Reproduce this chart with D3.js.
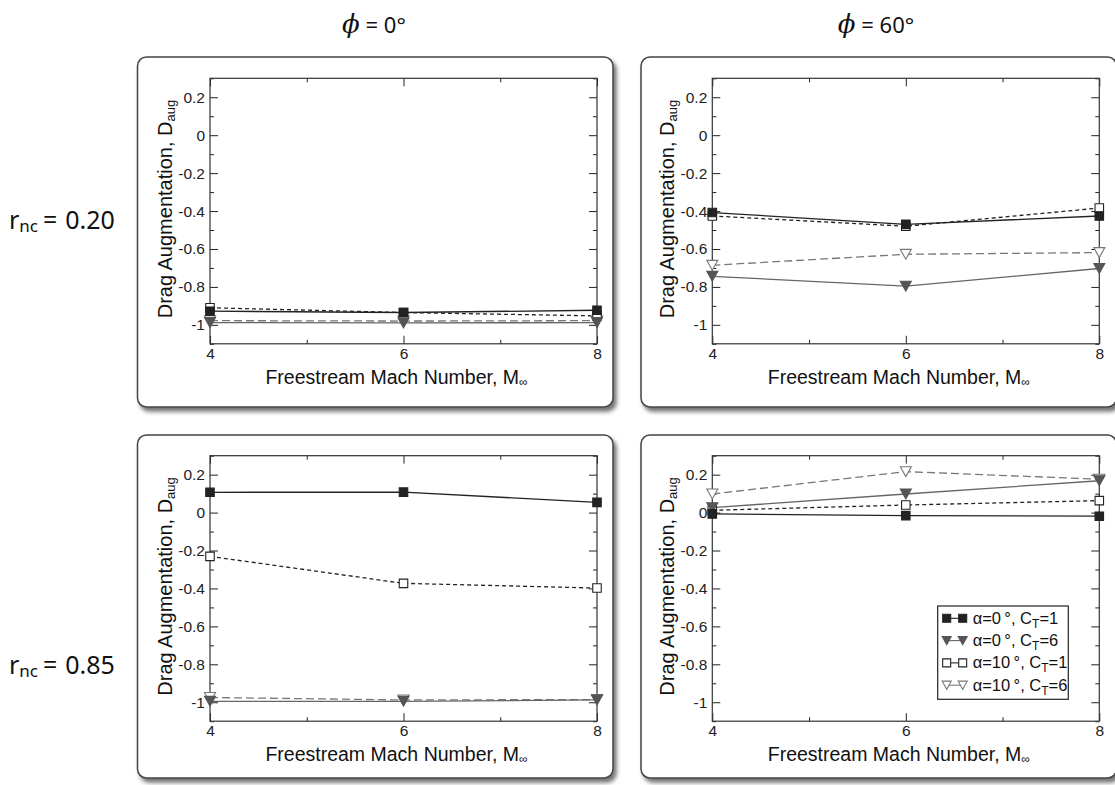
<!DOCTYPE html>
<html>
<head>
<meta charset="utf-8">
<script src="https://cdn.jsdelivr.net/npm/d3@7"></script>
<style>
  html, body { margin: 0; padding: 0; background: #fff; }
  svg { display: block; }
</style>
</head>
<body>
<svg id="chart" width="1115" height="785"></svg>
<script>
// ---------------- DATA ----------------
const machNumbers = [4, 6, 8];
const xTickValues = [4, 6, 8];
const xMinorTicks = [5, 7];
const yTickValues = [0.2, 0, -0.2, -0.4, -0.6, -0.8, -1];
const yTickLabels = ["0.2", "0", "-0.2", "-0.4", "-0.6", "-0.8", "-1"];
const yMinorTicks = [0.3, 0.1, -0.1, -0.3, -0.5, -0.7, -0.9, -1.1];
const columnHeaders = ["0°", "60°"];          // phi
const rowHeaders = ["0.20", "0.85"];          // r_nc
const seriesNames = ["α=0°, C_T=1", "α=0°, C_T=6", "α=10°, C_T=1", "α=10°, C_T=6"];

// r_nc = 0.20, phi = 0
const r020_phi0_a0_ct1  = [-0.928, -0.935, -0.923];
const r020_phi0_a0_ct6  = [-0.988, -0.990, -0.988];
const r020_phi0_a10_ct1 = [-0.910, -0.935, -0.953];
const r020_phi0_a10_ct6 = [-0.978, -0.980, -0.978];
// r_nc = 0.20, phi = 60
const r020_phi60_a0_ct1  = [-0.408, -0.470, -0.426];
const r020_phi60_a0_ct6  = [-0.744, -0.796, -0.703];
const r020_phi60_a10_ct1 = [-0.426, -0.480, -0.384];
const r020_phi60_a10_ct6 = [-0.686, -0.628, -0.619];
// r_nc = 0.85, phi = 0
const r085_phi0_a0_ct1  = [0.107, 0.108, 0.054];
const r085_phi0_a0_ct6  = [-0.995, -0.995, -0.988];
const r085_phi0_a10_ct1 = [-0.231, -0.373, -0.398];
const r085_phi0_a10_ct6 = [-0.975, -0.988, -0.986];
// r_nc = 0.85, phi = 60
const r085_phi60_a0_ct1  = [-0.007, -0.016, -0.019];
const r085_phi60_a0_ct6  = [0.026, 0.098, 0.168];
const r085_phi60_a10_ct1 = [0.012, 0.040, 0.063];
const r085_phi60_a10_ct6 = [0.098, 0.216, 0.176];

const panelData = [
  [[r020_phi0_a0_ct1, r020_phi0_a0_ct6, r020_phi0_a10_ct1, r020_phi0_a10_ct6],
   [r020_phi60_a0_ct1, r020_phi60_a0_ct6, r020_phi60_a10_ct1, r020_phi60_a10_ct6]],
  [[r085_phi0_a0_ct1, r085_phi0_a0_ct6, r085_phi0_a10_ct1, r085_phi0_a10_ct6],
   [r085_phi60_a0_ct1, r085_phi60_a0_ct6, r085_phi60_a10_ct1, r085_phi60_a10_ct6]]
];

// ---------------- STYLE ----------------
const seriesStyle = [
  { shape: "square",   fill: "#222", stroke: "#222", line: "#222", dash: null },
  { shape: "triangle", fill: "#555", stroke: "#555", line: "#666", dash: null },
  { shape: "square",   fill: "#fff", stroke: "#222", line: "#222", dash: "4,3" },
  { shape: "triangle", fill: "#fff", stroke: "#777", line: "#777", dash: "8,4" }
];

const svg = d3.select("#chart");
const defs = svg.append("defs");
const f = defs.append("filter").attr("id", "shadow")
  .attr("x", "-5%").attr("y", "-5%").attr("width", "115%").attr("height", "115%");
f.append("feDropShadow").attr("dx", 3).attr("dy", 4).attr("stdDeviation", 2.2)
  .attr("flood-color", "#000").attr("flood-opacity", 0.55);

const colPlotLeft = [210, 712.3];
const plotW = 387;
const rowPlotTop = [78.3, 455.7];
const plotH = 265.5;
const colBoxLeft = [137.5, 641];
const boxW = 475.5;
const rowBoxTop = [57, 435];
const rowBoxH = [350, 343];

const headerFont = "'Noto Sans', Lato, sans-serif";
const axisFont = "'Liberation Sans', Arial, sans-serif";

// column headers
columnHeaders.forEach((h, c) => {
  const cx = c === 0 ? 374 : 876;
  const t = svg.append("text").attr("x", cx).attr("y", 33)
    .attr("text-anchor", "middle")
    .attr("font-family", headerFont).attr("font-size", 22).attr("fill", "#111");
  t.append("tspan").attr("font-family", "'DejaVu Serif', 'Liberation Serif', serif")
    .attr("font-style", "italic").attr("font-size", 26).text("ϕ");
  t.append("tspan").text(" = " + h);
});

// row headers
rowHeaders.forEach((h, r) => {
  const cy = r === 0 ? 229 : 674;
  const t = svg.append("text").attr("x", 9).attr("y", cy)
    .attr("font-family", headerFont).attr("font-size", 25).attr("fill", "#111")
    .style("white-space", "pre");
  t.append("tspan").text("r");
  t.append("tspan").attr("font-size", 17).attr("dy", 3).text("nc");
  t.append("tspan").attr("dy", -3).attr("dx", 5).text("=");
  t.append("tspan").attr("dx", 8).text(h);
});

function markerPath(shape, size) {
  if (shape === "square") {
    const s = size / 2;
    return `M${-s},${-s}H${s}V${s}H${-s}Z`;
  }
  const w = size * 0.5, h = size * 0.45;
  return `M${-w},${-h}L${w},${-h}L0,${h}Z`;
}

for (let r = 0; r < 2; r++) {
  for (let c = 0; c < 2; c++) {
    // panel box
    svg.append("rect")
      .attr("x", colBoxLeft[c]).attr("y", rowBoxTop[r])
      .attr("width", boxW).attr("height", rowBoxH[r])
      .attr("rx", 9).attr("ry", 9)
      .attr("fill", "#fff").attr("stroke", "#444").attr("stroke-width", 1.5)
      .attr("filter", "url(#shadow)");

    const x0 = colPlotLeft[c], y0 = rowPlotTop[r];
    const g = svg.append("g").attr("transform", `translate(${x0},${y0})`);
    const x = d3.scaleLinear().domain([4, 8]).range([0, plotW]);
    const y = d3.scaleLinear().domain([-1.1, 0.3]).range([plotH, 0]);

    // axes with inward ticks
    const fmt = v => yTickLabels[yTickValues.indexOf(v)];
    const left = d3.axisLeft(y).tickValues(yTickValues).tickFormat(fmt).tickSize(-8).tickPadding(5);
    const right = d3.axisRight(y).tickValues(yTickValues).tickFormat("").tickSize(-8);
    const leftMinor = d3.axisLeft(y).tickValues(yMinorTicks).tickFormat("").tickSize(-4);
    const rightMinor = d3.axisRight(y).tickValues(yMinorTicks).tickFormat("").tickSize(-4);
    const bottom = d3.axisBottom(x).tickValues(xTickValues).tickFormat(d3.format("d")).tickSize(-8).tickPadding(4);
    const top = d3.axisTop(x).tickValues(xTickValues).tickFormat("").tickSize(-8);
    const bottomMinor = d3.axisBottom(x).tickValues(xMinorTicks).tickFormat("").tickSize(-4);
    const topMinor = d3.axisTop(x).tickValues(xMinorTicks).tickFormat("").tickSize(-4);

    const axes = [
      [left, ""], [leftMinor, ""],
      [right, `translate(${plotW},0)`], [rightMinor, `translate(${plotW},0)`],
      [bottom, `translate(0,${plotH})`], [bottomMinor, `translate(0,${plotH})`],
      [top, ""], [topMinor, ""]
    ];
    axes.forEach(([ax, tr]) => {
      const a = g.append("g").attr("transform", tr).call(ax);
      a.select(".domain").remove();
      a.selectAll("line").attr("stroke", "#222").attr("stroke-width", 1);
      a.selectAll("text").attr("font-family", axisFont).attr("font-size", 15.5).attr("fill", "#222");
    });
    g.append("rect").attr("width", plotW).attr("height", plotH)
      .attr("fill", "none").attr("stroke", "#333").attr("stroke-width", 1.2);

    // axis titles
    const xt = g.append("text").attr("x", plotW / 2 - 7).attr("y", plotH + 40)
      .attr("text-anchor", "middle").attr("font-family", axisFont)
      .attr("font-size", 19.5).attr("fill", "#111");
    xt.append("tspan").text("Freestream Mach Number, M");
    xt.append("tspan").attr("font-size", 12).attr("dy", 2).text("∞");

    const yt = g.append("text").attr("transform", `translate(-38,${plotH / 2 - 2}) rotate(-90)`)
      .attr("text-anchor", "middle").attr("font-family", axisFont)
      .attr("font-size", 20).attr("fill", "#111");
    yt.append("tspan").text("Drag Augmentation, D");
    yt.append("tspan").attr("font-size", 13).attr("dy", 3).text("aug");

    // series
    const line = d3.line().x((d, i) => x(machNumbers[i])).y(d => y(d));
    const drawOrder = [3, 2, 1, 0];
    drawOrder.forEach(s => {
      const st = seriesStyle[s];
      const vals = panelData[r][c][s];
      g.append("path").datum(vals).attr("d", line)
        .attr("fill", "none").attr("stroke", st.line).attr("stroke-width", 1.3)
        .attr("stroke-dasharray", st.dash);
    });
    drawOrder.forEach(s => {
      const st = seriesStyle[s];
      const vals = panelData[r][c][s];
      g.selectAll(null).data(vals).enter().append("path")
        .attr("transform", (d, i) => `translate(${x(machNumbers[i])},${y(d)})`)
        .attr("d", markerPath(st.shape, st.shape === "square" ? 8.5 : 11))
        .attr("fill", st.fill).attr("stroke", st.stroke).attr("stroke-width", 1.1);
    });

    // legend in bottom-right panel
    if (r === 1 && c === 1) {
      const lg = g.append("g").attr("transform", `translate(${937.7 - x0},${606 - y0})`);
      lg.append("rect").attr("width", 130.6).attr("height", 93.3)
        .attr("fill", "#fff").attr("stroke", "#222").attr("stroke-width", 1.2);
      seriesNames.forEach((name, i) => {
        const st = seriesStyle[i];
        const ly = 12.3 + i * 22.3;
        lg.append("line").attr("x1", 9).attr("x2", 25).attr("y1", ly).attr("y2", ly)
          .attr("stroke", st.line).attr("stroke-width", 1.1);
        [9, 25].forEach(mx => {
          lg.append("path").attr("transform", `translate(${mx},${ly})`)
            .attr("d", markerPath(st.shape, st.shape === "square" ? 8 : 9))
            .attr("fill", st.fill).attr("stroke", st.stroke).attr("stroke-width", 1.1);
        });
        const parts = name.split("C_T");
        const t = lg.append("text").attr("x", 35).attr("y", ly + 5.5)
          .attr("font-family", axisFont).attr("font-size", 16.5).attr("fill", "#111");
        t.append("tspan").text(parts[0].replace("°", "\u2009°") + "C");
        t.append("tspan").attr("font-size", 12).attr("dy", 4).text("T");
        t.append("tspan").attr("dy", -4).text(parts[1]);
      });
    }
  }
}
</script>
</body>
</html>
